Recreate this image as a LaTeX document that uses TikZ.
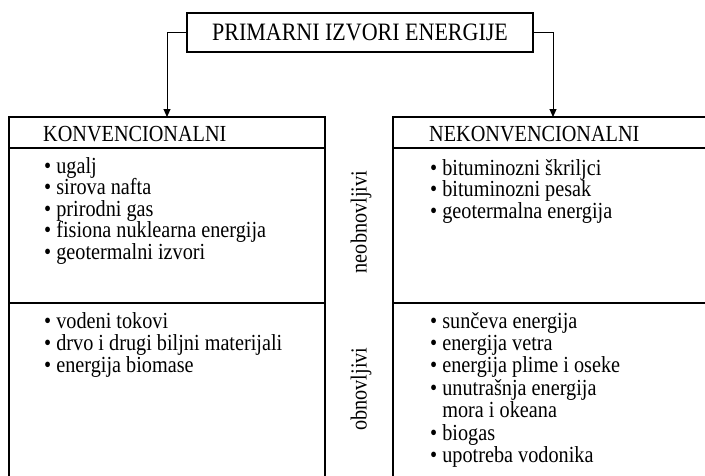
\documentclass[tikz,border=0pt]{standalone}
\usepackage{fontspec}
\setmainfont[FakeStretch=0.88]{Liberation Serif}
\usetikzlibrary{arrows.meta}
\begin{document}
\begin{tikzpicture}[x=1pt,y=-1pt,
  boxline/.style={line width=1.5pt, line cap=rect},
  conn/.style={line width=1pt, -{Triangle[length=8pt,width=7pt]}},
  body/.style={inner sep=0pt, anchor=base west, font=\fontsize{23}{22}\selectfont},
  vlabel/.style={inner sep=0pt, rotate=90, font=\fontsize{23}{22}\selectfont}]
\useasboundingbox (0,0) rectangle (705,475);
\fill[white] (0,0) rectangle (705,475);
% title
\node[draw, line width=1.5pt, minimum width=346pt, minimum height=39pt, inner sep=0pt,
      font=\fontsize{25}{25}\selectfont] (title) at (360,32.5) {PRIMARNI IZVORI ENERGIJE};
\coordinate (lt) at (167,117);
\coordinate (rt) at (553,117);
\draw[conn] (title.west) -- (lt |- title.west) -- (lt);
\draw[conn] (title.east) -- (rt |- title.east) -- (rt);
% left box
\draw[boxline] (9,476) -- (9,117) -- (325,117) -- (325,476);
\draw[boxline] (9,148) -- (325,148);
\draw[boxline] (9,303) -- (325,303);
% right box
\draw[boxline] (393,476) -- (393,117) -- (707,117);
\draw[boxline] (393,148) -- (707,148);
\draw[boxline] (393,303) -- (707,303);
% headers
\node[body] (hk) at (43,141) {KONVENCIONALNI};
\node[body] (hn) at (429,141) {NEKONVENCIONALNI};
% side labels
\node[vlabel] (neo) at (361,222) {neobnovljivi};
\node[vlabel] (obn) at (361,389) {obnovljivi};
% left upper list
\foreach \t [count=\i] in {ugalj, sirova nafta, prirodni gas, fisiona nuklearna energija, geotermalni izvori}
  \node[body] (lu\i) at (44,{173+(\i-1)*21.5}) {• \t};
% right upper list
\foreach \t [count=\i] in {bituminozni škriljci, bituminozni pesak, geotermalna energija}
  \node[body] (ru\i) at (430,{175+(\i-1)*21.5}) {• \t};
% left lower list
\foreach \t [count=\i] in {vodeni tokovi, drvo i drugi biljni materijali, energija biomase}
  \node[body] (ll\i) at (44,{328+(\i-1)*22.4}) {• \t};
% right lower list
\foreach \t [count=\i] in {• sunčeva energija, • energija vetra, • energija plime i oseke, • unutrašnja energija, \phantom{•} mora i okeana, • biogas, • upotreba vodonika}
  \node[body] (rl\i) at (430,{328+(\i-1)*22.4}) {\t};
\end{tikzpicture}
\end{document}
